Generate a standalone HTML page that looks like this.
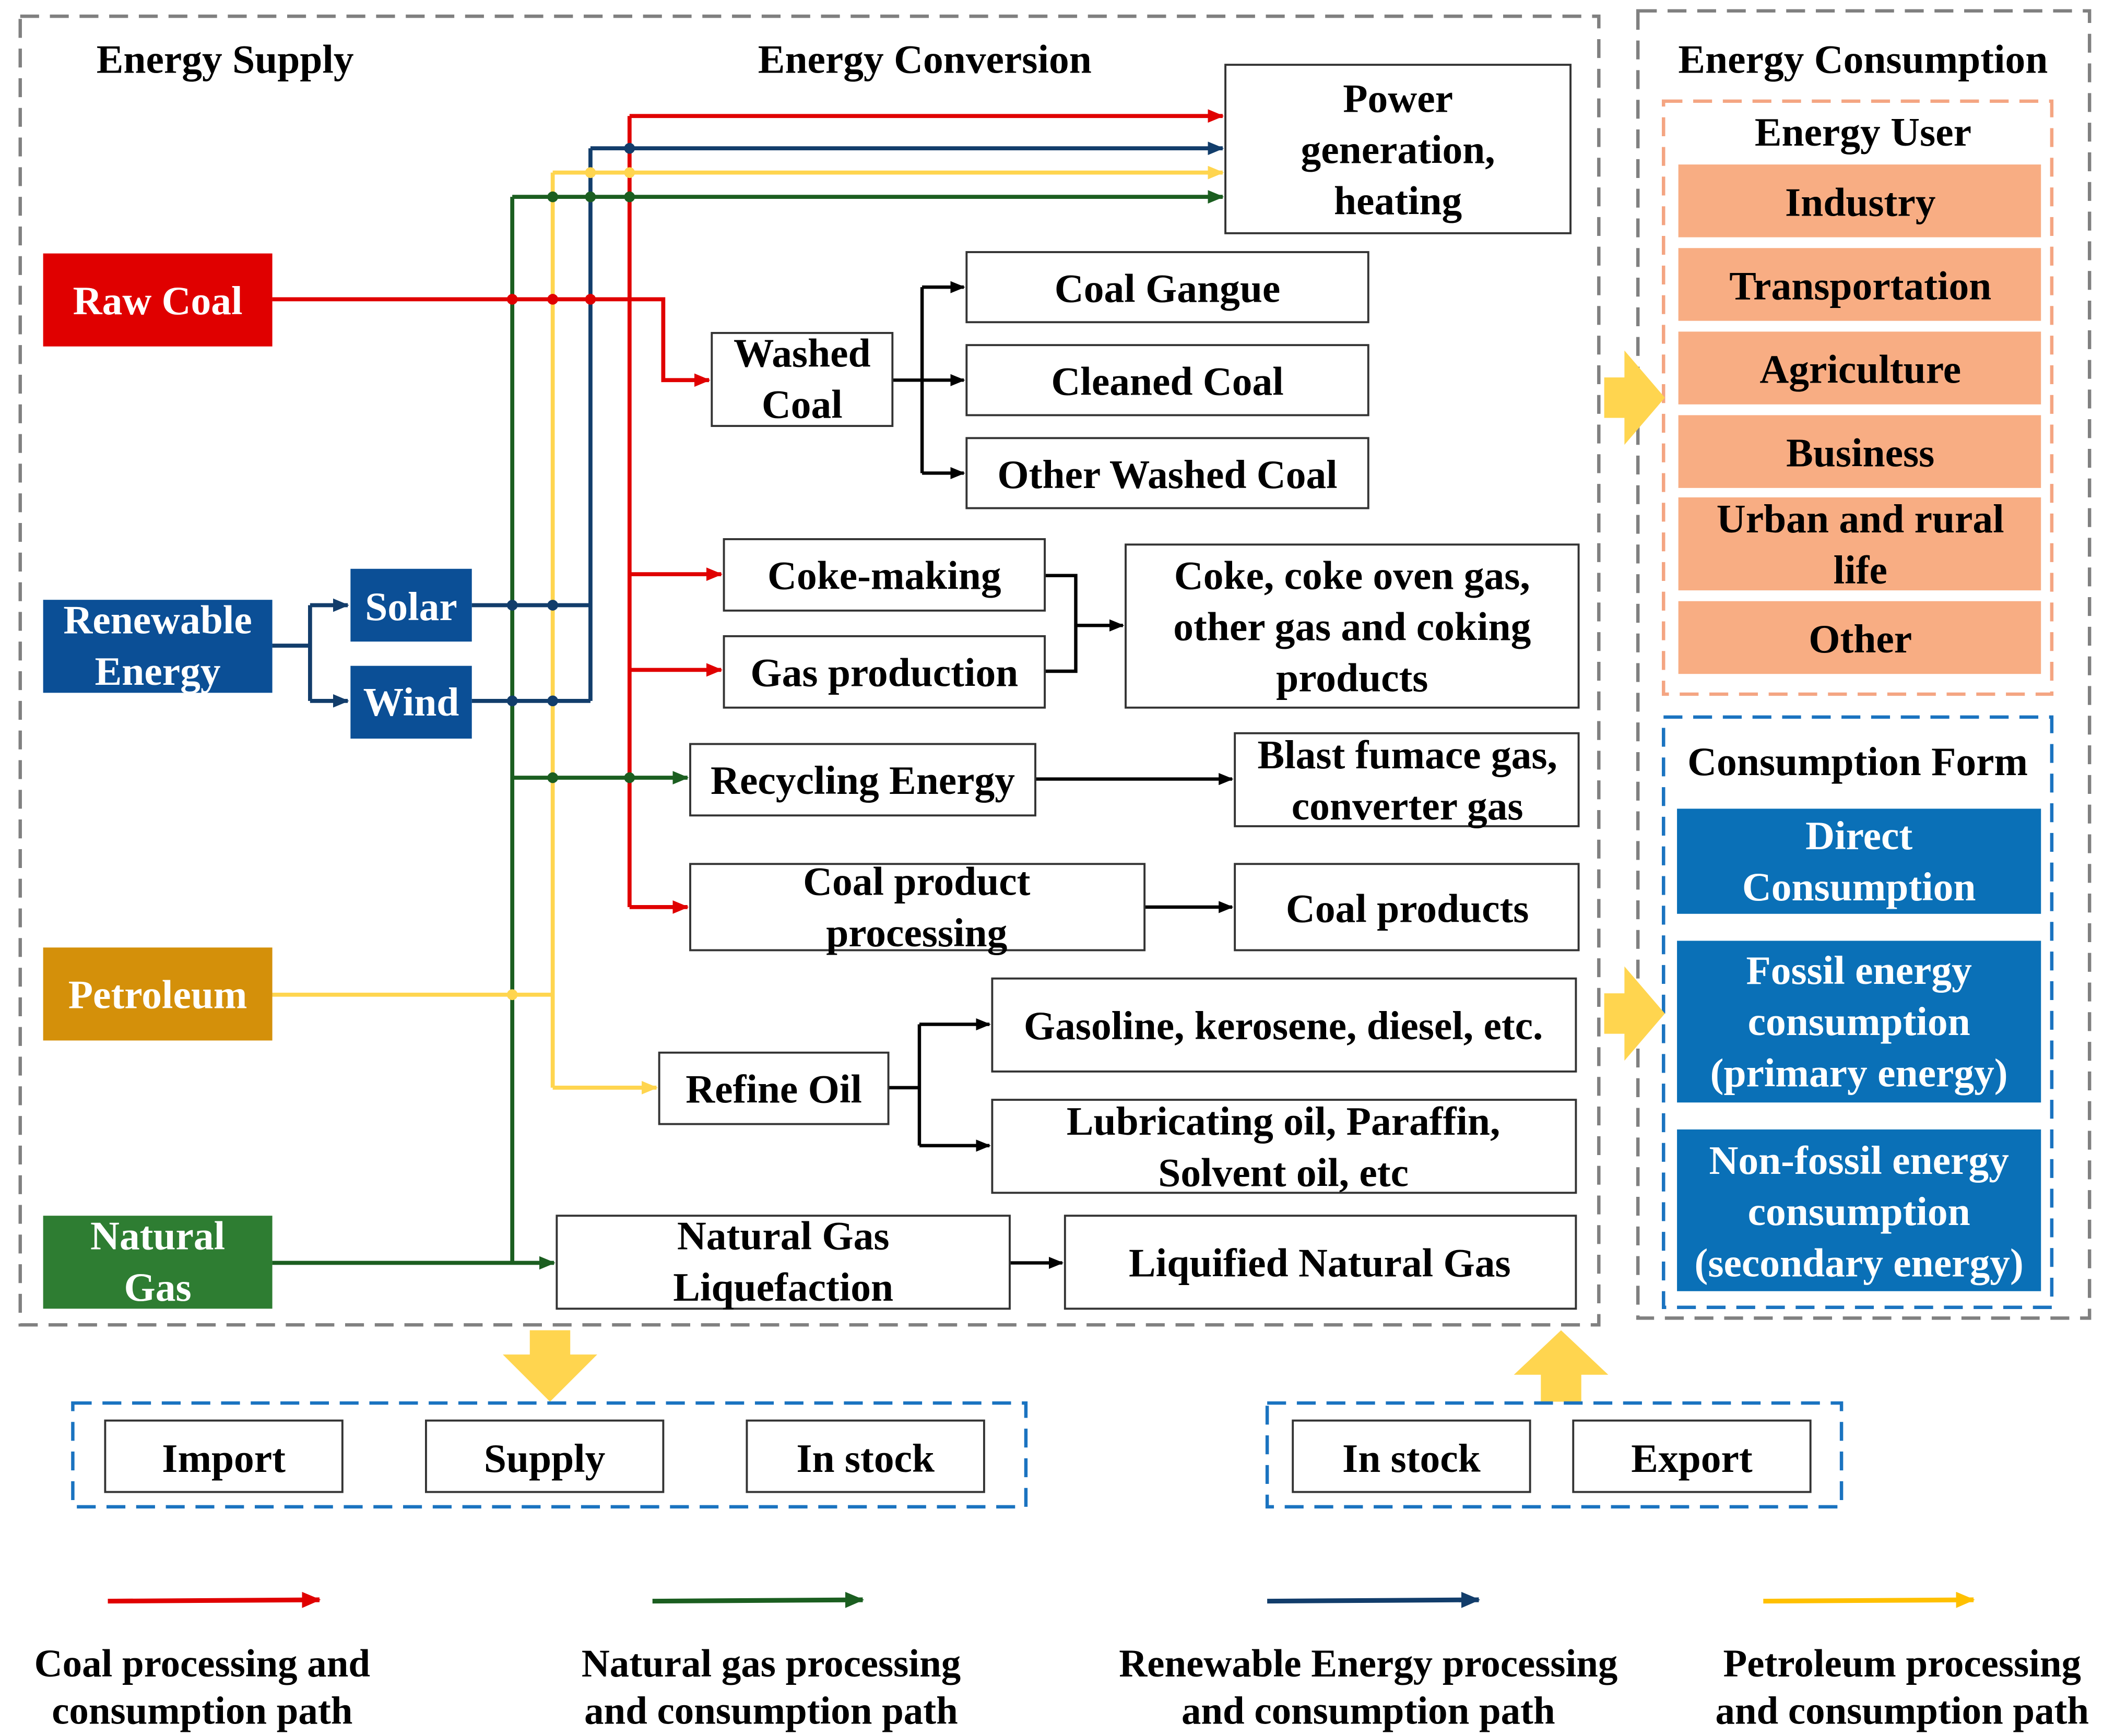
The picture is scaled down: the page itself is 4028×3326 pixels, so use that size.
<!DOCTYPE html>
<html><head><meta charset="utf-8"><style>
html,body{margin:0;padding:0;background:#fff;}
svg{display:block;}
text{font-family:"Liberation Serif",serif;font-weight:bold;fill:#000;}
text.w{fill:#fff;}
</style></head><body>
<svg width="4028" height="3326" viewBox="0 0 1560 1288" xmlns="http://www.w3.org/2000/svg">
<defs>
<marker id="ar" markerWidth="12" markerHeight="10" refX="11" refY="5" orient="auto" markerUnits="userSpaceOnUse" viewBox="0 0 12 10"><path d="M0,0 L12,5 L0,10 z" fill="#e00000"/></marker>
<marker id="ab" markerWidth="12" markerHeight="10" refX="11" refY="5" orient="auto" markerUnits="userSpaceOnUse" viewBox="0 0 12 10"><path d="M0,0 L12,5 L0,10 z" fill="#123d6b"/></marker>
<marker id="ay" markerWidth="12" markerHeight="10" refX="11" refY="5" orient="auto" markerUnits="userSpaceOnUse" viewBox="0 0 12 10"><path d="M0,0 L12,5 L0,10 z" fill="#ffd54f"/></marker>
<marker id="ag" markerWidth="12" markerHeight="10" refX="11" refY="5" orient="auto" markerUnits="userSpaceOnUse" viewBox="0 0 12 10"><path d="M0,0 L12,5 L0,10 z" fill="#1b5e20"/></marker>
<marker id="ak" markerWidth="11" markerHeight="9" refX="10" refY="4.5" orient="auto" markerUnits="userSpaceOnUse" viewBox="0 0 11 9"><path d="M0,0 L11,4.5 L0,9 z" fill="#000"/></marker>
<marker id="lr" markerWidth="14" markerHeight="12" refX="13" refY="6" orient="auto" markerUnits="userSpaceOnUse" viewBox="0 0 14 12"><path d="M0,0 L14,6 L0,12 z" fill="#e00000"/></marker>
<marker id="lg" markerWidth="14" markerHeight="12" refX="13" refY="6" orient="auto" markerUnits="userSpaceOnUse" viewBox="0 0 14 12"><path d="M0,0 L14,6 L0,12 z" fill="#1b5e20"/></marker>
<marker id="lb" markerWidth="14" markerHeight="12" refX="13" refY="6" orient="auto" markerUnits="userSpaceOnUse" viewBox="0 0 14 12"><path d="M0,0 L14,6 L0,12 z" fill="#123d6b"/></marker>
<marker id="ly" markerWidth="14" markerHeight="12" refX="13" refY="6" orient="auto" markerUnits="userSpaceOnUse" viewBox="0 0 14 12"><path d="M0,0 L14,6 L0,12 z" fill="#ffc000"/></marker>
</defs>

<rect x="15" y="12" width="1171" height="971" fill="none" stroke="#808080" stroke-width="2.5" stroke-dasharray="14,8"/>
<rect x="1215" y="8" width="335" height="970" fill="none" stroke="#808080" stroke-width="2.5" stroke-dasharray="14,8"/>

<g font-size="30" text-anchor="middle">
<text x="167" y="54">Energy Supply</text>
<text x="686" y="54">Energy Conversion</text>
<text x="1382" y="54">Energy Consumption</text>
</g>

<g fill="none" stroke-width="3">
<polyline points="202,222 492,222 492,282 526,282" stroke="#e00000" marker-end="url(#ar)"/>
<line x1="467" y1="86" x2="467" y2="673" stroke="#e00000"/>
<line x1="467" y1="86" x2="907" y2="86" stroke="#e00000" marker-end="url(#ar)"/>
<line x1="467" y1="426" x2="535" y2="426" stroke="#e00000" marker-end="url(#ar)"/>
<line x1="467" y1="497" x2="535" y2="497" stroke="#e00000" marker-end="url(#ar)"/>
<line x1="467" y1="673" x2="510" y2="673" stroke="#e00000" marker-end="url(#ar)"/>
<polyline points="202,479 230,479" stroke="#123d6b"/>
<line x1="230" y1="449" x2="230" y2="520" stroke="#123d6b"/>
<line x1="230" y1="449" x2="258" y2="449" stroke="#123d6b" marker-end="url(#ab)"/>
<line x1="230" y1="520" x2="258" y2="520" stroke="#123d6b" marker-end="url(#ab)"/>
<line x1="350" y1="449" x2="438" y2="449" stroke="#123d6b"/>
<line x1="350" y1="520" x2="438" y2="520" stroke="#123d6b"/>
<line x1="438" y1="110" x2="438" y2="520" stroke="#123d6b"/>
<line x1="438" y1="110" x2="907" y2="110" stroke="#123d6b" marker-end="url(#ab)"/>
<line x1="202" y1="738" x2="410" y2="738" stroke="#ffd54f"/>
<line x1="410" y1="128" x2="410" y2="807" stroke="#ffd54f"/>
<line x1="410" y1="128" x2="907" y2="128" stroke="#ffd54f" marker-end="url(#ay)"/>
<line x1="410" y1="807" x2="487" y2="807" stroke="#ffd54f" marker-end="url(#ay)"/>
<line x1="202" y1="937" x2="411" y2="937" stroke="#1b5e20" marker-end="url(#ag)"/>
<line x1="380" y1="146" x2="380" y2="937" stroke="#1b5e20"/>
<line x1="380" y1="146" x2="907" y2="146" stroke="#1b5e20" marker-end="url(#ag)"/>
<line x1="380" y1="577" x2="510" y2="577" stroke="#1b5e20" marker-end="url(#ag)"/>
</g>
<g>
<circle cx="380" cy="222" r="4" fill="#e00000"/><circle cx="410" cy="222" r="4" fill="#e00000"/><circle cx="438" cy="222" r="4" fill="#e00000"/>
<circle cx="467" cy="110" r="4" fill="#123d6b"/><circle cx="438" cy="128" r="4" fill="#ffd54f"/><circle cx="467" cy="128" r="4" fill="#ffd54f"/>
<circle cx="410" cy="146" r="4" fill="#1b5e20"/><circle cx="438" cy="146" r="4" fill="#1b5e20"/><circle cx="467" cy="146" r="4" fill="#1b5e20"/>
<circle cx="380" cy="449" r="4" fill="#123d6b"/><circle cx="410" cy="449" r="4" fill="#123d6b"/>
<circle cx="380" cy="520" r="4" fill="#123d6b"/><circle cx="410" cy="520" r="4" fill="#123d6b"/>
<circle cx="410" cy="577" r="4" fill="#1b5e20"/><circle cx="467" cy="577" r="4" fill="#1b5e20"/>
<circle cx="380" cy="738" r="4" fill="#ffd54f"/>
</g>

<g fill="none" stroke="#000" stroke-width="2.5">
<line x1="662" y1="282" x2="684" y2="282"/>
<line x1="684" y1="213" x2="684" y2="351"/>
<line x1="684" y1="213" x2="715" y2="213" marker-end="url(#ak)"/>
<line x1="684" y1="282" x2="715" y2="282" marker-end="url(#ak)"/>
<line x1="684" y1="351" x2="715" y2="351" marker-end="url(#ak)"/>
<polyline points="775,427 798,427 798,498 775,498"/>
<line x1="798" y1="464" x2="833" y2="464" marker-end="url(#ak)"/>
<line x1="768" y1="578" x2="914" y2="578" marker-end="url(#ak)"/>
<line x1="849" y1="673" x2="914" y2="673" marker-end="url(#ak)"/>
<line x1="659" y1="807" x2="682" y2="807"/>
<line x1="682" y1="760" x2="682" y2="850"/>
<line x1="682" y1="760" x2="734" y2="760" marker-end="url(#ak)"/>
<line x1="682" y1="850" x2="734" y2="850" marker-end="url(#ak)"/>
<line x1="749" y1="937" x2="788" y2="937" marker-end="url(#ak)"/>
</g>

<rect x="32" y="188" width="170" height="69" fill="#e00000"/>
<rect x="32" y="445" width="170" height="69" fill="#0b4f96"/>
<rect x="260" y="422" width="90" height="54" fill="#0b4f96"/>
<rect x="260" y="494" width="90" height="54" fill="#0b4f96"/>
<rect x="32" y="703" width="170" height="69" fill="#d4900a"/>
<rect x="32" y="902" width="170" height="69" fill="#2e7d32"/>
<g font-size="30" text-anchor="middle">
<text class="w" x="117" y="233">Raw Coal</text>
<text class="w" x="117" y="470">Renewable</text>
<text class="w" x="117" y="508">Energy</text>
<text class="w" x="305" y="460">Solar</text>
<text class="w" x="305" y="531">Wind</text>
<text class="w" x="117" y="748">Petroleum</text>
<text class="w" x="117" y="927">Natural</text>
<text class="w" x="117" y="965">Gas</text>
</g>

<g fill="#fff" stroke="#333" stroke-width="1.5">
<rect x="909" y="48" width="256" height="125"/>
<rect x="717" y="187" width="298" height="52"/>
<rect x="717" y="256" width="298" height="52"/>
<rect x="717" y="325" width="298" height="52"/>
<rect x="528" y="247" width="134" height="69"/>
<rect x="537" y="400" width="238" height="53"/>
<rect x="537" y="472" width="238" height="53"/>
<rect x="835" y="404" width="336" height="121"/>
<rect x="512" y="552" width="256" height="53"/>
<rect x="916" y="544" width="255" height="69"/>
<rect x="512" y="641" width="337" height="64"/>
<rect x="916" y="641" width="255" height="64"/>
<rect x="489" y="781" width="170" height="53"/>
<rect x="736" y="726" width="433" height="69"/>
<rect x="736" y="816" width="433" height="69"/>
<rect x="413" y="902" width="336" height="69"/>
<rect x="790" y="902" width="379" height="69"/>
</g>
<g font-size="30" text-anchor="middle">
<text x="1037" y="83">Power</text>
<text x="1037" y="121">generation,</text>
<text x="1037" y="159">heating</text>
<text x="866" y="224">Coal Gangue</text>
<text x="866" y="293">Cleaned Coal</text>
<text x="866" y="362">Other Washed Coal</text>
<text x="595" y="272">Washed</text>
<text x="595" y="310">Coal</text>
<text x="656" y="437">Coke-making</text>
<text x="656" y="509">Gas production</text>
<text x="1003" y="437">Coke, coke oven gas,</text>
<text x="1003" y="475">other gas and coking</text>
<text x="1003" y="513">products</text>
<text x="640" y="589">Recycling Energy</text>
<text x="1044" y="570">Blast fumace gas,</text>
<text x="1044" y="608">converter gas</text>
<text x="680" y="664">Coal product</text>
<text x="680" y="702">processing</text>
<text x="1044" y="684">Coal products</text>
<text x="574" y="818">Refine Oil</text>
<text x="952" y="771">Gasoline, kerosene, diesel, etc.</text>
<text x="952" y="842">Lubricating oil, Paraffin,</text>
<text x="952" y="880">Solvent oil, etc</text>
<text x="581" y="927">Natural Gas</text>
<text x="581" y="965">Liquefaction</text>
<text x="979" y="947">Liquified Natural Gas</text>
</g>

<rect x="1234" y="75" width="288" height="440" fill="none" stroke="#f4a582" stroke-width="2.5" stroke-dasharray="14,8"/>
<text x="1382" y="108" font-size="30" text-anchor="middle">Energy User</text>
<g fill="#f8ad83">
<rect x="1245" y="122" width="269" height="54"/>
<rect x="1245" y="184" width="269" height="54"/>
<rect x="1245" y="246" width="269" height="54"/>
<rect x="1245" y="308" width="269" height="54"/>
<rect x="1245" y="369" width="269" height="69"/>
<rect x="1245" y="446" width="269" height="54"/>
</g>
<g font-size="30" text-anchor="middle">
<text x="1380" y="160">Industry</text>
<text x="1380" y="222">Transportation</text>
<text x="1380" y="284">Agriculture</text>
<text x="1380" y="346">Business</text>
<text x="1380" y="395">Urban and rural</text>
<text x="1380" y="433">life</text>
<text x="1380" y="484">Other</text>
</g>
<rect x="1234" y="532" width="288" height="438" fill="none" stroke="#1a73c0" stroke-width="2.5" stroke-dasharray="14,8"/>
<rect x="1236" y="545" width="284" height="40" fill="#fff"/>
<text x="1378" y="575" font-size="30" text-anchor="middle">Consumption Form</text>
<g fill="#0a70b7">
<rect x="1244" y="600" width="270" height="78"/>
<rect x="1244" y="698" width="270" height="120"/>
<rect x="1244" y="838" width="270" height="120"/>
</g>
<g font-size="30" text-anchor="middle">
<text class="w" x="1379" y="630">Direct</text>
<text class="w" x="1379" y="668">Consumption</text>
<text class="w" x="1379" y="730">Fossil energy</text>
<text class="w" x="1379" y="768">consumption</text>
<text class="w" x="1379" y="806">(primary energy)</text>
<text class="w" x="1379" y="871">Non-fossil energy</text>
<text class="w" x="1379" y="909">consumption</text>
<text class="w" x="1379" y="947">(secondary energy)</text>
</g>

<g fill="#ffd54f">
<polygon points="1190,280 1205,280 1205,260 1235,295 1205,330 1205,310 1190,310"/>
<polygon points="1190,737 1205,737 1205,717 1235,752 1205,787 1205,767 1190,767"/>
<polygon points="393,987 423,987 423,1005 443,1005 408,1040 373,1005 393,1005"/>
<polygon points="1143,1040 1173,1040 1173,1020 1193,1020 1158,987 1123,1020 1143,1020"/>
</g>

<rect x="54" y="1041" width="707" height="77" fill="none" stroke="#1a73c0" stroke-width="2.5" stroke-dasharray="14,8"/>
<rect x="940" y="1041" width="426" height="77" fill="none" stroke="#1a73c0" stroke-width="2.5" stroke-dasharray="14,8"/>
<g fill="#fff" stroke="#333" stroke-width="1.5">
<rect x="78" y="1054" width="176" height="53"/>
<rect x="316" y="1054" width="176" height="53"/>
<rect x="554" y="1054" width="176" height="53"/>
<rect x="959" y="1054" width="176" height="53"/>
<rect x="1167" y="1054" width="176" height="53"/>
</g>
<g font-size="30" text-anchor="middle">
<text x="166" y="1092">Import</text>
<text x="404" y="1092">Supply</text>
<text x="642" y="1092">In stock</text>
<text x="1047" y="1092">In stock</text>
<text x="1255" y="1092">Export</text>
</g>

<g stroke-width="3.5">
<line x1="80" y1="1188" x2="237" y2="1187" stroke="#e00000" marker-end="url(#lr)"/>
<line x1="484" y1="1188" x2="640" y2="1187" stroke="#1b5e20" marker-end="url(#lg)"/>
<line x1="940" y1="1188" x2="1097" y2="1187" stroke="#123d6b" marker-end="url(#lb)"/>
<line x1="1308" y1="1188" x2="1464" y2="1187" stroke="#ffc000" marker-end="url(#ly)"/>
</g>
<g font-size="29" text-anchor="middle">
<text x="150" y="1244">Coal processing and</text>
<text x="150" y="1279">consumption path</text>
<text x="572" y="1244">Natural gas processing</text>
<text x="572" y="1279">and consumption path</text>
<text x="1015" y="1244">Renewable Energy processing</text>
<text x="1015" y="1279">and consumption path</text>
<text x="1411" y="1244">Petroleum processing</text>
<text x="1411" y="1279">and consumption path</text>
</g>
</svg>
</body></html>
